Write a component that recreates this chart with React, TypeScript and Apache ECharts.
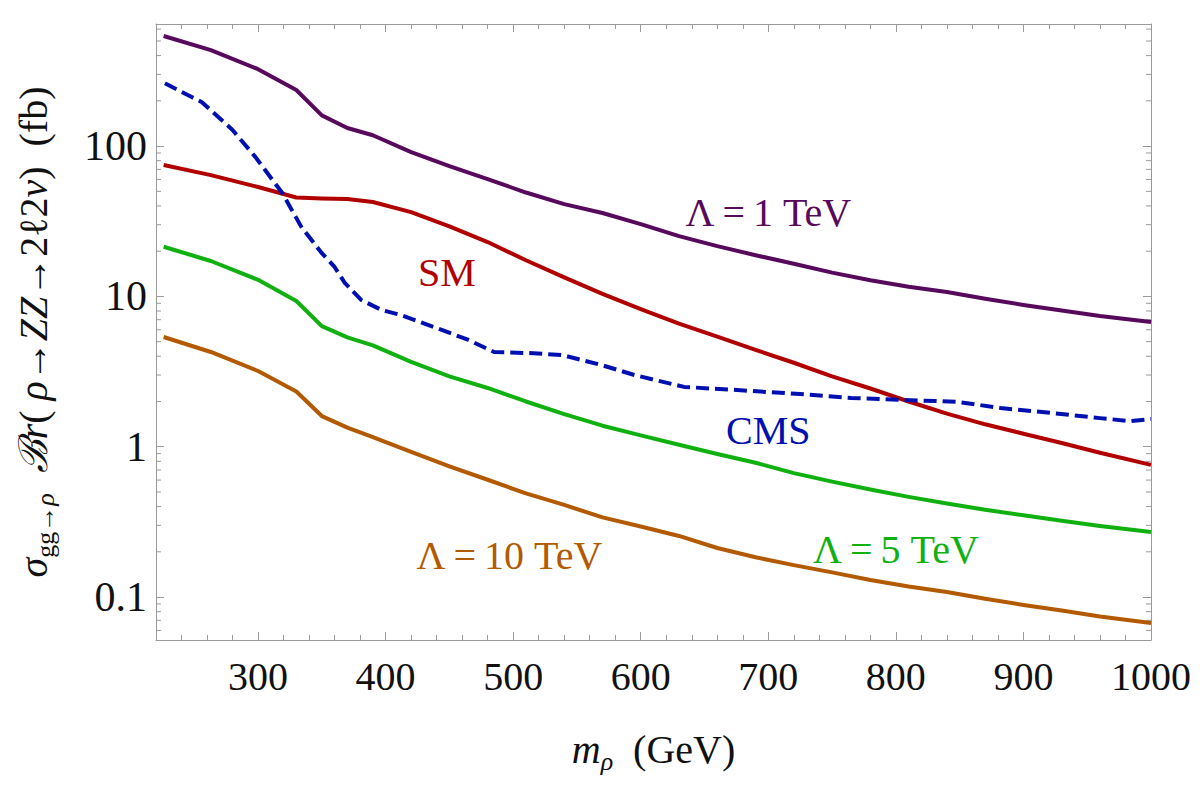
import React, { useEffect, useRef } from 'react';
import * as echarts from 'echarts';

// Resonance mass grid (GeV) shared by the model curves
const massGrid = [226, 263, 300, 330, 350, 370, 390, 420, 450, 480, 510, 540, 570, 600, 630, 660, 690, 720, 750, 780, 810, 840, 870, 900, 930, 960, 1000];

// sigma x Br (fb) for each model
const lambda1TeV = [540, 435, 325, 236, 160, 132, 118, 91.2, 73.6, 60.3, 49.1, 41.1, 35.9, 30.3, 25.2, 21.6, 18.8, 16.5, 14.4, 12.8, 11.6, 10.7, 9.66, 8.77, 8.06, 7.41, 6.76];
const standardModel = [74.8, 64.1, 53.4, 45.5, 44.8, 44.4, 42.5, 36.4, 29.2, 23.0, 17.4, 13.4, 10.4, 8.24, 6.59, 5.4, 4.41, 3.62, 2.94, 2.44, 2.0, 1.66, 1.41, 1.22, 1.06, 0.912, 0.757];
const lambda5TeV = [21.4, 17.2, 12.9, 9.32, 6.35, 5.34, 4.72, 3.67, 2.94, 2.46, 2.0, 1.65, 1.38, 1.19, 1.03, 0.894, 0.783, 0.668, 0.586, 0.519, 0.464, 0.419, 0.381, 0.35, 0.322, 0.297, 0.271];
const lambda10TeV = [5.37, 4.27, 3.19, 2.33, 1.6, 1.34, 1.16, 0.924, 0.741, 0.603, 0.489, 0.41, 0.339, 0.295, 0.255, 0.212, 0.184, 0.163, 0.146, 0.13, 0.1175, 0.108, 0.0975, 0.0886, 0.0814, 0.0743, 0.0673];

// CMS observed limit
const cmsMass = [227, 248, 256, 280, 298, 319, 334, 350, 360, 368, 381, 397, 412, 444, 465, 485, 512, 538, 569, 595, 634, 673, 725, 765, 804, 848, 882, 921, 960, 984, 1000];
const cmsLimit = [262, 212, 196, 128, 84.5, 48.7, 28.9, 19.4, 15.7, 12.3, 9.46, 8.11, 7.52, 5.98, 5.13, 4.27, 4.2, 4.08, 3.5, 3.0, 2.5, 2.39, 2.24, 2.11, 2.05, 1.99, 1.81, 1.68, 1.55, 1.48, 1.53];

// Axis ranges and labelled ticks
const xRange = [220, 1000];
const yRange = [0.0518, 649];
const xTickLabels = [300, 400, 500, 600, 700, 800, 900, 1000];
const yTickLabels = [0.1, 1, 10, 100];

const FONT = '"Liberation Serif", "Times New Roman", "DejaVu Serif", serif';
const FRAME = '#9a9a9a';

const COLORS = {
  l1: '#570a5c',
  sm: '#b00000',
  l5: '#11b011',
  l10: '#b35a00',
  cms: '#0010b0',
};

// Curve labels, anchored in data coordinates
const curveLabels = [
  { text: 'Λ\u2009=\u20091 TeV', mass: 700, sigma: 36.4, color: COLORS.l1 },
  { text: 'SM', mass: 448, sigma: 14.5, color: COLORS.sm },
  { text: 'CMS', mass: 700, sigma: 1.29, color: COLORS.cms },
  { text: 'Λ\u2009=\u20095 TeV', mass: 800, sigma: 0.206, color: COLORS.l5 },
  { text: 'Λ\u2009=\u200910 TeV', mass: 497, sigma: 0.188, color: COLORS.l10 },
];

// 2..9 x each decade inside the y range
const yMinorTicks: number[] = [];
for (let e = -2; e <= 2; e++) {
  for (let m = 2; m <= 9; m++) {
    const v = m * Math.pow(10, e);
    if (v > yRange[0] && v < yRange[1]) yMinorTicks.push(v);
  }
}

const pair = (xs: number[], ys: number[]) => xs.map((x, i) => [x, ys[i]]);

const matchY = (v: number) => yTickLabels.find((t) => Math.abs(v - t) / t < 1e-6);

export default function App() {
  const ref = useRef<HTMLDivElement>(null);

  useEffect(() => {
    if (!ref.current) return;
    const chart = echarts.init(ref.current, undefined, { renderer: 'svg' });

    const lineSeries = (name: string, data: number[][], color: string, dashed = false) => ({
      name,
      type: 'line',
      data,
      showSymbol: false,
      symbol: 'none',
      z: 3,
      lineStyle: {
        color,
        width: 4,
        type: dashed ? [13, 6] : 'solid',
        cap: 'butt',
        join: 'round',
      },
    });

    const xAxisBase = {
      type: 'value',
      min: xRange[0],
      max: xRange[1],
      splitNumber: 8,
      axisLine: { show: true, onZero: false, lineStyle: { color: FRAME, width: 1 } },
      axisTick: { show: true, inside: true, length: 8, lineStyle: { color: FRAME } },
      minorTick: { show: true, splitNumber: 5, length: 5, lineStyle: { color: FRAME } },
      splitLine: { show: false },
    };

    const yAxisBase = {
      type: 'log',
      logBase: 10,
      min: yRange[0],
      max: yRange[1],
      axisLine: { show: true, onZero: false, lineStyle: { color: FRAME, width: 1 } },
      axisTick: { show: true, inside: true, length: 8, lineStyle: { color: FRAME } },
      splitLine: { show: false },
    };

    chart.setOption({
      animation: false,
      backgroundColor: '#ffffff',
      grid: { left: 154, right: 49, top: 24, bottom: 146, containLabel: false },
      xAxis: [
        {
          ...xAxisBase,
          position: 'bottom',
          name: '{it|m}{sub|ρ}  (GeV)',
          nameLocation: 'middle',
          nameGap: 84,
          nameTextStyle: {
            fontFamily: FONT,
            fontSize: 40,
            color: '#111',
            lineHeight: 50,
            rich: {
              it: { fontFamily: FONT, fontSize: 40, fontStyle: 'italic', color: '#111', lineHeight: 50 },
              sub: {
                fontFamily: FONT,
                fontSize: 26,
                fontStyle: 'italic',
                color: '#111',
                lineHeight: 28,
                verticalAlign: 'bottom',
              },
            },
          },
          axisLabel: {
            show: true,
            margin: 16,
            fontFamily: FONT,
            fontSize: 40,
            color: '#111',
            formatter: (v: number) => (xTickLabels.includes(v) ? String(v) : ''),
          },
        },
        {
          ...xAxisBase,
          position: 'top',
          axisLabel: { show: false },
        },
      ],
      yAxis: [
        {
          ...yAxisBase,
          position: 'left',
          name:
            '{it|σ}{sub|gg→}{subit|ρ}  {scr|ℬ}{it|r}( {it|ρ}→{it|ZZ}→2ℓ2{it|ν})  (fb)',
          nameLocation: 'middle',
          nameGap: 98,
          nameRotate: 90,
          nameTextStyle: {
            fontFamily: FONT,
            fontSize: 40,
            color: '#111',
            lineHeight: 50,
            rich: {
              it: { fontFamily: FONT, fontSize: 40, fontStyle: 'italic', color: '#111', lineHeight: 50 },
              scr: { fontFamily: FONT, fontSize: 40, fontStyle: 'italic', color: '#111', lineHeight: 50 },
              sub: { fontFamily: FONT, fontSize: 26, color: '#111', lineHeight: 28, verticalAlign: 'bottom' },
              subit: {
                fontFamily: FONT,
                fontSize: 26,
                fontStyle: 'italic',
                color: '#111',
                lineHeight: 28,
                verticalAlign: 'bottom',
              },
            },
          },
          axisLabel: {
            show: true,
            margin: 9,
            fontFamily: FONT,
            fontSize: 42,
            color: '#111',
            showMinLabel: false,
            showMaxLabel: false,
            formatter: (v: number) => {
              const t = matchY(v);
              return t === undefined ? '' : String(t);
            },
          },
        },
        {
          ...yAxisBase,
          position: 'right',
          axisLabel: { show: false },
        },
      ],
      series: [
        {
          name: 'minor ticks',
          type: 'custom',
          silent: true,
          z: 1,
          clip: false,
          data: yMinorTicks.map((v) => [xRange[0], v]),
          encode: { x: 0, y: 1 },
          renderItem: (params: any, api: any) => {
            const cs = params.coordSys;
            const y = api.coord([xRange[0], api.value(1)])[1];
            const style = { stroke: FRAME, lineWidth: 1 };
            return {
              type: 'group',
              children: [
                { type: 'line', shape: { x1: cs.x, y1: y, x2: cs.x + 5, y2: y }, style },
                { type: 'line', shape: { x1: cs.x + cs.width - 5, y1: y, x2: cs.x + cs.width, y2: y }, style },
              ],
            };
          },
        },
        lineSeries('Λ = 1 TeV', pair(massGrid, lambda1TeV), COLORS.l1),
        lineSeries('SM', pair(massGrid, standardModel), COLORS.sm),
        lineSeries('Λ = 5 TeV', pair(massGrid, lambda5TeV), COLORS.l5),
        lineSeries('Λ = 10 TeV', pair(massGrid, lambda10TeV), COLORS.l10),
        lineSeries('CMS', pair(cmsMass, cmsLimit), COLORS.cms, true),
        {
          name: 'curve labels',
          type: 'scatter',
          silent: true,
          symbolSize: 0,
          z: 4,
          itemStyle: { opacity: 0 },
          data: curveLabels.map((l) => ({
            value: [l.mass, l.sigma],
            name: l.text,
            label: { color: l.color },
          })),
          label: {
            show: true,
            position: 'inside',
            formatter: '{b}',
            fontFamily: FONT,
            fontSize: 40,
            opacity: 1,
            textBorderWidth: 0,
            textShadowBlur: 0,
          },
        },
      ],
    });

    return () => chart.dispose();
  }, []);

  return (
    <div style={{ position: 'fixed', left: 0, top: 0, width: 1200, height: 786, background: '#fff' }}>
      <div ref={ref} style={{ width: 1200, height: 786 }} />
    </div>
  );
}
